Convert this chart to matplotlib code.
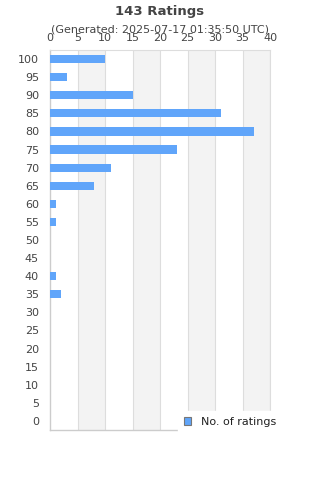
import matplotlib.pyplot as plt
import numpy as np

scores = [100, 95, 90, 85, 80, 75, 70, 65, 60, 55, 50, 45, 40, 35, 30, 25, 20, 15, 10, 5, 0]
counts = [10, 3, 15, 31, 37, 23, 11, 8, 1, 1, 0, 0, 1, 2, 0, 0, 0, 0, 0, 0, 0]
x_ticks = [0, 5, 10, 15, 20, 25, 30, 35, 40]

txt = "#444444"
bar_color = "#60A5FA"
grid_color = "#dddddd"

fig = plt.figure(figsize=(3.2, 4.8), dpi=100)
ax = fig.add_axes([50 / 320, 50 / 480, 220 / 320, 380 / 480])

# alternating bands
for i in range(len(x_ticks) - 1):
    if i % 2 == 1:
        ax.axvspan(x_ticks[i], x_ticks[i + 1], color="#f3f3f3", zorder=0, lw=0)
for t in x_ticks[1:]:
    ax.axvline(t, color=grid_color, lw=0.8, zorder=1)

pos = np.arange(len(scores))[::-1]
ax.barh(pos, counts, height=0.45, color=bar_color, zorder=3, label="No. of ratings")

ax.set_xlim(0, 40)
ax.set_ylim(-0.5, len(scores) - 0.5)
ax.set_yticks(pos)
ax.set_yticklabels([str(s) for s in scores])
ax.set_xticks(x_ticks)
ax.xaxis.tick_top()
ax.tick_params(axis="both", length=0, labelsize=8, colors=txt)
ax.tick_params(axis="x", pad=5)
ax.tick_params(axis="y", pad=8)

for side in ["top", "right"]:
    ax.spines[side].set_color(grid_color)
    ax.spines[side].set_linewidth(0.8)
for side in ["left", "bottom"]:
    ax.spines[side].set_color("#cccccc")
    ax.spines[side].set_linewidth(1.0)

fig.text(0.5, 1 - 11 / 480, "143 Ratings", ha="center", va="center",
         fontsize=9.5, fontweight="bold", color=txt)
fig.text(0.5, 1 - 30 / 480, "(Generated: 2025-07-17 01:35:50 UTC)", ha="center",
         va="center", fontsize=8, color=txt)

leg = fig.legend(loc="center left", bbox_to_anchor=(178 / 320, 1 - 422 / 480),
                 frameon=True, fontsize=8, handlelength=0.7, handleheight=0.7,
                 handletextpad=0.9, borderpad=0.5, borderaxespad=0, fancybox=False)
leg.get_frame().set_facecolor("white")
leg.get_frame().set_edgecolor("white")
leg.get_frame().set_alpha(1)
for h in leg.legend_handles:
    h.set_edgecolor("#777777")
    h.set_linewidth(0.8)
for t in leg.get_texts():
    t.set_color("#222222")

fig.savefig("out.png", dpi=100)
